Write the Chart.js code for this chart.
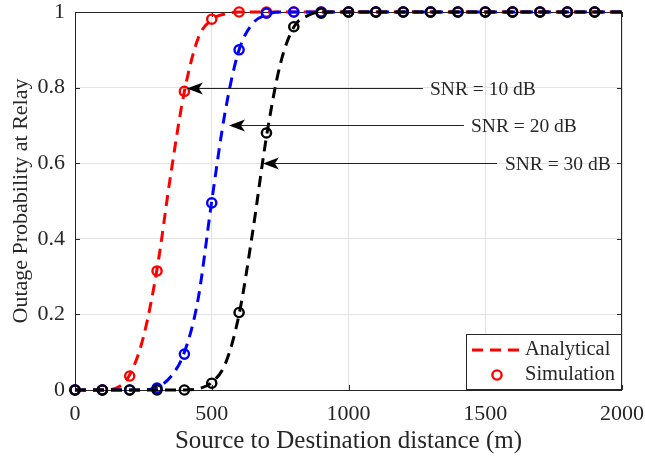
<!DOCTYPE html>
<html>
<head>
<meta charset="utf-8">
<script src="https://cdn.jsdelivr.net/npm/chart.js@4.4.0/dist/chart.umd.min.js"></script>
<style>
  html, body { margin: 0; padding: 0; background: #fff; }
</style>
</head>
<body>
<canvas id="outageChart" width="645" height="458"></canvas>
<script>
// ---- data ----
const simDistance = [0, 100, 200, 300, 400, 500, 600, 700, 800, 900, 1000, 1100, 1200, 1300, 1400, 1500, 1600, 1700, 1800, 1900];
const simSnr10 = [0, 0, 0.037, 0.315, 0.79, 0.981, 1, 1, 1, 1, 1, 1, 1, 1, 1, 1, 1, 1, 1, 1];
const simSnr20 = [0, 0, 0, 0.005, 0.095, 0.495, 0.90, 0.997, 1, 1, 1, 1, 1, 1, 1, 1, 1, 1, 1, 1];
const simSnr30 = [0, 0, 0, 0, 0, 0.018, 0.205, 0.68, 0.961, 0.997, 1, 1, 1, 1, 1, 1, 1, 1, 1, 1];

const anaDistance = [0, 50, 100, 150, 200, 250, 300, 350, 400, 450, 500, 550, 600, 650, 700, 750, 800, 850, 900, 950, 1000, 2000];
const anaSnr10 = [0, 0, 0, 0.005, 0.04, 0.14, 0.32, 0.57, 0.79, 0.93, 0.98, 0.995, 1, 1, 1, 1, 1, 1, 1, 1, 1, 1];
const anaSnr20 = [0, 0, 0, 0, 0, 0, 0.008, 0.035, 0.10, 0.24, 0.50, 0.74, 0.90, 0.97, 0.993, 1, 1, 1, 1, 1, 1, 1];
const anaSnr30 = [0, 0, 0, 0, 0, 0, 0, 0, 0, 0.003, 0.02, 0.07, 0.20, 0.42, 0.67, 0.86, 0.96, 0.99, 1, 1, 1, 1];

const xTicks = [0, 500, 1000, 1500, 2000];
const yTicks = [0, 0.2, 0.4, 0.6, 0.8, 1];

// arrow annotations: [label, tipX, tipY, tailX, textX]
const snrNotes = [
    ['SNR = 10 dB', 409, 0.80, 1272, 1298],
    ['SNR = 20 dB', 563, 0.70, 1422, 1448],
    ['SNR = 30 dB', 687, 0.60, 1543, 1572]
];

const FONT = "'Liberation Serif', 'Times New Roman', serif";
const AXIS = '#262626';

function pts(xs, ys) {
    return xs.map((x, i) => ({ x: x, y: ys[i] }));
}

function analytical(ys, color, order) {
    return {
        label: 'Analytical',
        data: pts(anaDistance, ys),
        showLine: true,
        borderColor: color,
        borderWidth: 3,
        borderDash: [11, 7],
        pointRadius: 0,
        cubicInterpolationMode: 'monotone',
        clip: false,
        order: order
    };
}

function simulation(ys, color, order) {
    return {
        label: 'Simulation',
        data: pts(simDistance, ys),
        showLine: false,
        borderColor: color,
        backgroundColor: 'rgba(0,0,0,0)',
        pointStyle: 'circle',
        pointRadius: 4.6,
        pointBorderWidth: 2.4,
        clip: false,
        order: order
    };
}

// box + inward ticks like MATLAB
const boxPlugin = {
    id: 'box',
    beforeDatasetsDraw(chart) {
        const { ctx, chartArea: a, scales } = chart;
        ctx.save();
        ctx.strokeStyle = AXIS;
        ctx.lineWidth = 1;
        ctx.strokeRect(a.left + 0.5, a.top + 0.5, a.right - a.left - 1, a.bottom - a.top);
        ctx.beginPath();
        xTicks.forEach(v => {
            const px = Math.round(scales.x.getPixelForValue(v)) + 0.5;
            ctx.moveTo(px, a.bottom); ctx.lineTo(px, a.bottom - 5);
            ctx.moveTo(px, a.top); ctx.lineTo(px, a.top + 5);
        });
        yTicks.forEach(v => {
            const py = Math.round(scales.y.getPixelForValue(v)) + 0.5;
            ctx.moveTo(a.left, py); ctx.lineTo(a.left + 5, py);
            ctx.moveTo(a.right, py); ctx.lineTo(a.right - 5, py);
        });
        ctx.stroke();
        ctx.restore();
    }
};

const notesPlugin = {
    id: 'notes',
    afterDatasetsDraw(chart) {
        const { ctx, scales } = chart;
        ctx.save();
        ctx.font = '19.5px ' + FONT;
        ctx.textBaseline = 'middle';
        snrNotes.forEach(([label, tx, ty, tail, textX]) => {
            const x0 = scales.x.getPixelForValue(tx);
            const y0 = Math.round(scales.y.getPixelForValue(ty)) + 0.5;
            const x1 = scales.x.getPixelForValue(tail);
            ctx.strokeStyle = '#222';
            ctx.lineWidth = 1;
            ctx.beginPath();
            ctx.moveTo(x1, y0);
            ctx.lineTo(x0 + 8, y0);
            ctx.stroke();
            // arrow head
            ctx.fillStyle = '#000';
            ctx.beginPath();
            ctx.moveTo(x0, y0);
            ctx.lineTo(x0 + 16, y0 - 6);
            ctx.lineTo(x0 + 12, y0);
            ctx.lineTo(x0 + 16, y0 + 6);
            ctx.closePath();
            ctx.fill();
            ctx.fillStyle = AXIS;
            ctx.fillText(label, scales.x.getPixelForValue(textX), y0 + 1);
        });
        ctx.restore();
    }
};

const legendPlugin = {
    id: 'boxLegend',
    afterDraw(chart) {
        const { ctx, chartArea: a } = chart;
        const w = 156, h = 56;
        const left = a.right - w, top = a.bottom - h;
        ctx.save();
        ctx.fillStyle = '#fff';
        ctx.fillRect(left, top, w, h);
        ctx.strokeStyle = AXIS;
        ctx.lineWidth = 1;
        ctx.strokeRect(left + 0.5, top + 0.5, w - 1, h - 1);
        // analytical row
        ctx.strokeStyle = '#ff0000';
        ctx.lineWidth = 3;
        ctx.setLineDash([11, 7]);
        ctx.beginPath();
        ctx.moveTo(left + 6, top + 16);
        ctx.lineTo(left + 54, top + 16);
        ctx.stroke();
        ctx.setLineDash([]);
        // simulation row
        ctx.lineWidth = 2.4;
        ctx.beginPath();
        ctx.arc(left + 31, top + 41, 4.6, 0, Math.PI * 2);
        ctx.stroke();
        ctx.fillStyle = AXIS;
        ctx.font = '20.5px ' + FONT;
        ctx.textBaseline = 'middle';
        ctx.fillText('Analytical', left + 59, top + 16);
        ctx.fillText('Simulation', left + 59, top + 41);
        ctx.restore();
    }
};

new Chart(document.getElementById('outageChart'), {
    type: 'scatter',
    data: {
        datasets: [
            analytical(anaSnr10, '#ff0000', 6),
            simulation(simSnr10, '#ff0000', 5),
            analytical(anaSnr20, '#0000ff', 4),
            simulation(simSnr20, '#0000ff', 3),
            analytical(anaSnr30, '#000000', 2),
            simulation(simSnr30, '#000000', 1)
        ]
    },
    options: {
        responsive: false,
        animation: false,
        layout: { padding: { top: 12, right: 23, left: 0, bottom: 0 } },
        plugins: {
            legend: { display: false },
            tooltip: { enabled: false }
        },
        scales: {
            x: {
                type: 'linear',
                min: 0,
                max: 2000,
                afterFit: s => {
                    s.height = 68;
                    s.paddingLeft = 0;
                    s.paddingRight = 0;
                },
                afterBuildTicks: s => { s.ticks = xTicks.map(v => ({ value: v })); },
                grid: { color: '#e3e3e3', drawTicks: false },
                border: { display: false },
                ticks: {
                    padding: 11,
                    color: AXIS,
                    font: { family: FONT, size: 22 },
                    maxRotation: 0,
                    callback: v => String(v)
                },
                title: {
                    display: true,
                    text: 'Source to Destination distance (m)',
                    color: AXIS,
                    font: { family: FONT, size: 25 },
                    padding: { bottom: 2 }
                }
            },
            y: {
                min: 0,
                max: 1,
                afterFit: s => {
                    s.width = 75;
                    s.paddingTop = 0;
                    s.paddingBottom = 0;
                },
                afterBuildTicks: s => { s.ticks = yTicks.map(v => ({ value: v })); },
                grid: { color: '#e3e3e3', drawTicks: false },
                border: { display: false },
                ticks: {
                    padding: 10,
                    color: AXIS,
                    font: { family: FONT, size: 22 },
                    callback: v => String(Math.round(v * 10) / 10)
                },
                title: {
                    display: true,
                    text: 'Outage Probability at Relay',
                    color: AXIS,
                    font: { family: FONT, size: 22 },
                    padding: { top: 8 }
                }
            }
        }
    },
    plugins: [boxPlugin, notesPlugin, legendPlugin]
});
</script>
</body>
</html>
